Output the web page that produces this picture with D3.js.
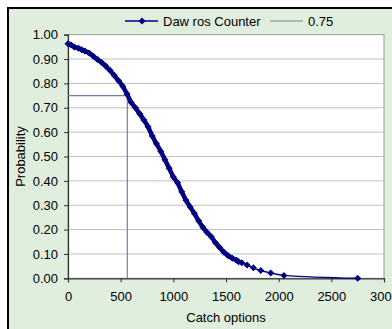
<!DOCTYPE html>
<meta charset="utf-8">
<style>
    body { margin: 0; }
    text {
        font-family: "Liberation Sans", Arial, sans-serif;
        font-size: 13px;
        fill: #000;
    }
</style>
<svg id="f" width="392" height="329"></svg>
<script src="https://cdn.jsdelivr.net/npm/d3@7/dist/d3.min.js"></script>
<script>
    // values
    var catchOptions = [0, 30, 60, 100, 130, 160, 200, 240, 280, 320, 360, 400, 440, 480, 520, 560,
        600, 640, 680, 720, 760, 800, 840, 880, 920, 960, 1000, 1040, 1080, 1120, 1160, 1200,
        1240, 1280, 1320, 1360, 1400, 1440, 1480, 1520, 1560, 1600, 1620, 1650, 1700, 1760,
        1830, 1925, 2050, 2750];
    var probability = [0.963, 0.958, 0.950, 0.944, 0.938, 0.933, 0.925, 0.912, 0.898, 0.886, 0.870,
        0.853, 0.832, 0.811, 0.788, 0.757, 0.722, 0.700, 0.676, 0.650, 0.622, 0.584, 0.552,
        0.522, 0.487, 0.452, 0.416, 0.392, 0.355, 0.320, 0.293, 0.266, 0.236, 0.210, 0.188,
        0.171, 0.146, 0.126, 0.107, 0.093, 0.082, 0.074, 0.068, 0.064, 0.055, 0.043, 0.032,
        0.022, 0.012, 0.000];
    var refLevel = 0.75;
    var refCatch = 563;
    var xTicks = [0, 500, 1000, 1500, 2000, 2500, 3000];
    var yTicks = [0, 0.1, 0.2, 0.3, 0.4, 0.5, 0.6, 0.7, 0.8, 0.9, 1.0];
    var seriesNames = ["Daw ros Counter", "0.75"];

    var svg = d3.select("#f");

    // chart background + frame
    svg.append("rect").attr("x", 0).attr("y", 0).attr("width", 392).attr("height", 329).attr("fill", "#fff");
    svg.append("rect")
        .attr("x", 8).attr("y", 8).attr("width", 400).attr("height", 340)
        .attr("fill", "#e0eedd")
        .attr("stroke", "#000").attr("stroke-width", 2);

    var plot = { left: 68, right: 384, top: 34.7, bottom: 278.3 };

    var x = d3.scaleLinear().domain([0, 3000]).range([plot.left, plot.right]),
        y = d3.scaleLinear().domain([0, 1]).range([plot.bottom, plot.top]);

    // plot area
    svg.append("rect")
        .attr("x", plot.left).attr("y", plot.top)
        .attr("width", plot.right - plot.left).attr("height", plot.bottom - plot.top)
        .attr("fill", "#fff")
        .attr("stroke", "#999").attr("stroke-width", 1);

    // gridlines
    svg.append("g")
        .selectAll("line")
        .data(yTicks.slice(1, -1))
        .enter().append("line")
        .attr("x1", plot.left).attr("x2", plot.right)
        .attr("y1", d => y(d)).attr("y2", d => y(d))
        .attr("stroke", "#c0c0c0").attr("stroke-width", 1);

    // axes
    var yAxis = svg.append("g")
        .attr("transform", "translate(" + plot.left + ",0)")
        .call(d3.axisLeft(y).tickValues(yTicks).tickFormat(d3.format(".2f")).tickSize(4).tickPadding(6));
    var xAxis = svg.append("g")
        .attr("transform", "translate(0," + plot.bottom + ")")
        .call(d3.axisBottom(x).tickValues(xTicks).tickFormat(d3.format("d")).tickSize(4).tickPadding(9));
    [xAxis, yAxis].forEach(function (a) {
        a.selectAll("path,line").attr("stroke", "#333");
        a.selectAll("text").style("font-size", "13px").style("font-family", "Liberation Sans, Arial, sans-serif");
        a.select(".domain").attr("stroke-width", 1.2);
    });

    svg.append("text")
        .attr("x", (plot.left + plot.right) / 2).attr("y", 322)
        .attr("text-anchor", "middle")
        .text("Catch options");
    svg.append("text")
        .attr("transform", "translate(25," + ((plot.top + plot.bottom) / 2) + ") rotate(-90)")
        .attr("text-anchor", "middle")
        .text("Probability");

    // 0.75 reference line
    var refColor = "#7a7aa8";
    svg.append("path")
        .attr("d", d3.line()([[x(0), y(refLevel)], [x(refCatch), y(refLevel)], [x(refCatch), y(0)]]))
        .attr("fill", "none")
        .attr("stroke", refColor).attr("stroke-width", 1.2);

    // series: dense part drawn thick (markers overlap), sparse tail thin
    var data = catchOptions.map((c, i) => ({ c: c, p: probability[i] }));
    var navy = "#000080";
    var lineGen = d3.line().curve(d3.curveMonotoneX).x(d => x(d.c)).y(d => y(d.p));
    var split = catchOptions.indexOf(1620);
    svg.append("path")
        .datum(data)
        .attr("d", lineGen)
        .attr("fill", "none")
        .attr("stroke", navy).attr("stroke-width", 1.5);
    svg.append("path")
        .datum(data.slice(0, split + 1))
        .attr("d", lineGen)
        .attr("fill", "none")
        .attr("stroke", navy).attr("stroke-width", 4.5).attr("stroke-linejoin", "round");

    var diamond = "M0,-3.5L3.5,0L0,3.5L-3.5,0Z";
    svg.append("g")
        .selectAll("path")
        .data(data)
        .enter().append("path")
        .attr("transform", d => "translate(" + x(d.c) + "," + y(d.p) + ")")
        .attr("d", diamond)
        .attr("fill", navy);

    // legend
    var legend = svg.append("g").attr("transform", "translate(0,21)");
    legend.append("line").attr("x1", 125).attr("x2", 158).attr("stroke", navy).attr("stroke-width", 1.5);
    legend.append("path").attr("transform", "translate(142,0)").attr("d", diamond).attr("fill", navy);
    legend.append("text").attr("x", 163).attr("dy", "0.35em").text(seriesNames[0]);
    legend.append("line").attr("x1", 270).attr("x2", 303).attr("stroke", refColor).attr("stroke-width", 1.2);
    legend.append("text").attr("x", 308).attr("dy", "0.35em").text(seriesNames[1]);
</script>
